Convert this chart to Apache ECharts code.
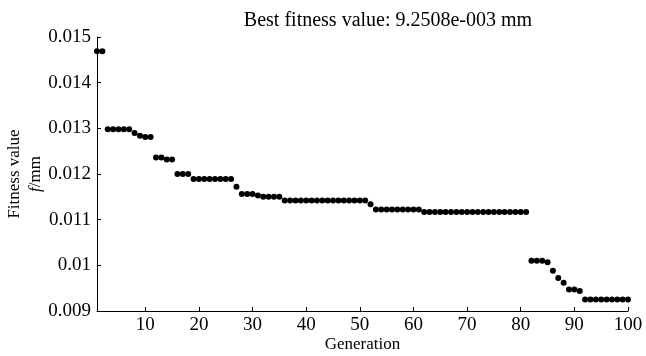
<!DOCTYPE html>
<html>
<head>
<meta charset="utf-8">
<script src="https://cdn.jsdelivr.net/npm/echarts@6/dist/echarts.min.js"></script>
<style>html,body{margin:0;padding:0;background:#fff}#c{width:646px;height:356px}</style>
</head>
<body>
<div id="c"></div>
<script>
const generations = [1,2,3,4,5,6,7,8,9,10,11,12,13,14,15,16,17,18,19,20,21,22,23,24,25,26,27,28,29,30,31,32,33,34,35,36,37,38,39,40,41,42,43,44,45,46,47,48,49,50,51,52,53,54,55,56,57,58,59,60,61,62,63,64,65,66,67,68,69,70,71,72,73,74,75,76,77,78,79,80,81,82,83,84,85,86,87,88,89,90,91,92,93,94,95,96,97,98,99,100];
const fitness = [
  0.01469,0.01469,
  0.01298,0.01298,0.01298,0.01298,0.01298,
  0.01290,0.01284,0.01281,0.01281,
  0.01236,0.01236,0.01232,0.01232,
  0.01200,0.01200,0.01200,
  0.01189,0.01189,0.01189,0.01189,0.01189,0.01189,0.01189,0.01189,
  0.01172,
  0.01156,0.01156,0.01156,
  0.01153,
  0.01150,0.01150,0.01150,0.01150,
  0.01142,0.01142,0.01142,0.01142,0.01142,0.01142,0.01142,0.01142,0.01142,0.01142,0.01142,0.01142,0.01142,0.01142,0.01142,0.01142,
  0.01134,
  0.01122,0.01122,0.01122,0.01122,0.01122,0.01122,0.01122,0.01122,0.01122,
  0.01117,0.01117,0.01117,0.01117,0.01117,0.01117,0.01117,0.01117,0.01117,0.01117,0.01117,0.01117,0.01117,0.01117,0.01117,0.01117,0.01117,0.01117,0.01117,0.01117,
  0.01010,0.01010,0.01010,
  0.01007,0.00988,0.00972,0.00962,
  0.00947,0.00947,
  0.00944,
  0.00925,0.00925,0.00925,0.00925,0.00925,0.00925,0.00925,0.00925,0.00925
];
const xTicks = [10,20,30,40,50,60,70,80,90,100];
const yTicks = [0.009,0.010,0.011,0.012,0.013,0.014,0.015];
const yTickLabels = ['0.009','0.01','0.011','0.012','0.013','0.014','0.015'];
const titleText = 'Best fitness value: 9.2508e-003 mm';

const FONT = 'Liberation Serif';
const chart = echarts.init(document.getElementById('c'));
const points = generations.map((g, i) => [g, fitness[i]]);
chart.setOption({
  animation: false,
  title: {
    text: titleText,
    left: 383, top: 6, textAlign: 'center',
    textStyle: {fontFamily: FONT, fontSize: 20, fontWeight: 'normal', color: '#000'}
  },
  grid: {left: 97, right: 18, top: 37, bottom: 45, outerBoundsMode: 'none', containLabel: false},
  xAxis: {
    type: 'value', min: 1, max: 100,
    name: 'Generation', nameLocation: 'middle', nameGap: 25, nameMoveOverlap: false,
    nameTextStyle: {fontFamily: FONT, fontSize: 17, color: '#000'},
    axisLine: {show: true, lineStyle: {color: '#000', width: 1}},
    axisTick: {show: true, inside: true, length: 4, lineStyle: {color: '#000'}, customValues: xTicks},
    axisLabel: {fontFamily: FONT, fontSize: 19, color: '#000', margin: 5, customValues: xTicks},
    splitLine: {show: false}
  },
  yAxis: {
    type: 'value', min: 0.009, max: 0.015,
    name: 'Fitness value\n{i|f}/mm', nameLocation: 'middle', nameGap: 51, nameMoveOverlap: false,
    nameTextStyle: {fontFamily: FONT, fontSize: 17, color: '#000', lineHeight: 21,
      rich: {i: {fontFamily: FONT, fontSize: 17, fontStyle: 'italic', color: '#000'}}},
    axisLine: {show: true, lineStyle: {color: '#000', width: 1}},
    axisTick: {show: true, inside: true, length: 4, lineStyle: {color: '#000'}, customValues: yTicks},
    axisLabel: {fontFamily: FONT, fontSize: 19, color: '#000', margin: 6, customValues: yTicks,
      formatter: function (v) { const i = yTicks.findIndex(t => Math.abs(t - v) < 1e-9); return i >= 0 ? yTickLabels[i] : ''; }},
    splitLine: {show: false}
  },
  series: [{
    type: 'scatter',
    data: points,
    symbol: 'circle', symbolSize: 6,
    itemStyle: {color: '#000', opacity: 1}
  }]
});
</script>
</body>
</html>
